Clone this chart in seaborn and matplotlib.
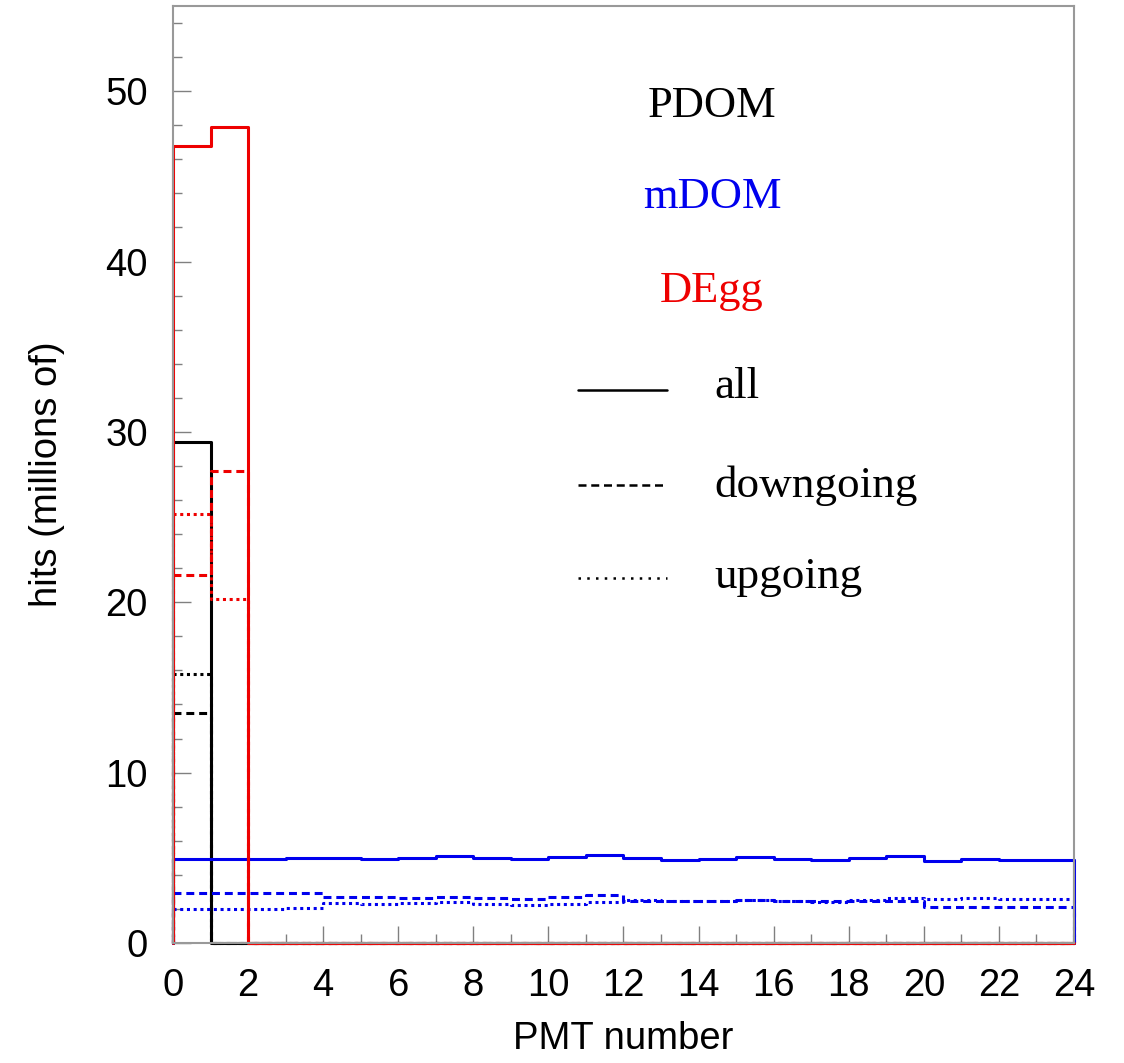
import numpy as np
import pandas as pd
import matplotlib
matplotlib.use("Agg")
import matplotlib.pyplot as plt
from matplotlib.ticker import MultipleLocator
import seaborn as sns

# PMT bins 0..23
pmt_edges = list(range(25))
pmt_index = list(range(24))

# hits in millions
mdom_all = [4.93, 4.95, 4.95, 5.01, 5.01, 4.91, 5.01, 5.13, 4.97, 4.91, 5.05, 5.15,
            4.97, 4.87, 4.95, 5.07, 4.95, 4.85, 4.97, 5.11, 4.83, 4.91, 4.87, 4.87]
mdom_down = [2.91, 2.93, 2.93, 2.91, 2.68, 2.68, 2.66, 2.72, 2.64, 2.60, 2.72, 2.80,
             2.46, 2.46, 2.47, 2.52, 2.48, 2.46, 2.46, 2.47, 2.13, 2.13, 2.13, 2.13]
mdom_up = [2.00, 2.00, 1.98, 2.05, 2.33, 2.30, 2.33, 2.39, 2.27, 2.25, 2.31, 2.39,
           2.50, 2.45, 2.48, 2.53, 2.47, 2.42, 2.50, 2.62, 2.60, 2.62, 2.60, 2.60]

pdom_all = [29.4] + [0.0] * 23
pdom_down = [13.5] + [0.0] * 23
pdom_up = [15.8] + [0.0] * 23

degg_all = [46.8, 47.9] + [0.0] * 22
degg_down = [21.6, 27.7] + [0.0] * 22
degg_up = [25.2, 20.2] + [0.0] * 22

modules = ["PDOM", "mDOM", "DEgg"]
module_colors = ["black", "#0000ee", "#ee0000"]
directions = ["all", "downgoing", "upgoing"]
# line styles for the histograms (lw 2.2) and for the legend samples (lw 1.8)
hist_styles = ["-", (0, (2.6, 1.6)), (0, (1.0, 1.2))]
key_styles = ["-", (0, (3.2, 1.9)), (0, (1.0, 2.5))]

series = {
    "PDOM": [pdom_all, pdom_down, pdom_up],
    "mDOM": [mdom_all, mdom_down, mdom_up],
    "DEgg": [degg_all, degg_down, degg_up],
}

sns.set_theme(style="white")
plt.rcParams["font.family"] = ["Liberation Sans", "DejaVu Sans"]

fig = plt.figure(figsize=(11.24, 10.63), dpi=100)
ax = fig.add_axes([0.1539, 0.1129, 0.8016, 0.8815])

lw = 2.2
for mod, col in zip(modules, module_colors):
    for vals, ls in zip(series[mod], hist_styles):
        df = pd.DataFrame({"pmt": np.array(pmt_index) + 0.5, "hits": vals})
        sns.histplot(data=df, x="pmt", weights="hits", bins=pmt_edges, element="step",
                     fill=False, color=col, linewidth=lw, linestyle=ls, ax=ax,
                     clip_on=False)
        # close the outline at both ends like a ROOT histogram
        ax.plot([pmt_edges[0], pmt_edges[0]], [0, vals[0]], color=col, lw=lw, ls=ls,
                clip_on=False)
        ax.plot([pmt_edges[-1], pmt_edges[-1]], [0, vals[-1]], color=col, lw=lw, ls=ls,
                clip_on=False)

ax.set_xlim(0, 24)
ax.set_ylim(0, 55)
ax.xaxis.set_major_locator(MultipleLocator(2))
ax.xaxis.set_minor_locator(MultipleLocator(1))
ax.yaxis.set_major_locator(MultipleLocator(10))
ax.yaxis.set_minor_locator(MultipleLocator(2))
ax.tick_params(which="both", direction="in", color="#808080", width=1.0,
               labelsize=27.5, labelcolor="black", bottom=True, left=True,
               top=False, right=False)
ax.tick_params(axis="x", which="major", length=12.5, pad=18)
ax.tick_params(axis="x", which="minor", length=6.5)
ax.tick_params(axis="y", which="major", length=13, pad=18)
ax.tick_params(axis="y", which="minor", length=6.5)
for sp in ax.spines.values():
    sp.set_color("#999999")
    sp.set_linewidth(1.5)

ax.set_xlabel("PMT number", fontsize=27.5, labelpad=12, color="black")
ax.set_ylabel("hits (millions of)", fontsize=27.5, labelpad=29, color="black")

# legend drawn as text, ROOT style
serif = ["Liberation Serif", "DejaVu Serif"]
for mod, col, yb in zip(modules, module_colors, [48.47, 43.13, 37.62]):
    ax.text(14.36, yb, mod, color=col, fontsize=32, family=serif, ha="center",
            va="baseline")

for d, ls, yl, yb in zip(directions, key_styles, [32.45, 26.9, 21.45],
                         [31.98, 26.17, 20.83]):
    ax.plot([10.79, 13.15], [yl, yl], color="black", lw=1.8, ls=ls)
    ax.text(14.41, yb, d, color="black", fontsize=32.5, family=serif, ha="left",
            va="baseline")

fig.savefig("out.png", dpi=100)
